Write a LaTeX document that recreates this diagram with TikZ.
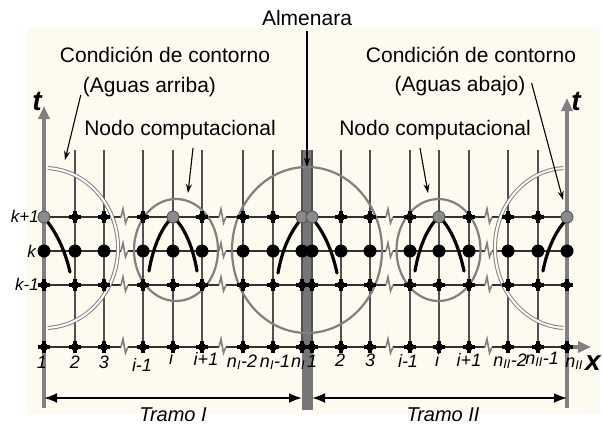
\documentclass[tikz,border=0pt]{standalone}
\usepackage{fontspec}
\setmainfont{Liberation Sans}
\usetikzlibrary{arrows.meta,calc}
\definecolor{cream}{RGB}{253,251,240}
\definecolor{axisgray}{RGB}{128,128,128}
\definecolor{barcol}{RGB}{118,118,118}
\definecolor{gridcol}{RGB}{80,80,80}
\definecolor{rowcol}{RGB}{50,50,50}
\definecolor{circcol}{RGB}{128,128,128}
\definecolor{nodegray}{RGB}{138,138,138}
\tikzset{
  vline/.style={draw=gridcol, line width=2bp},
  hline/.style={draw=rowcol, line width=2.3bp},
  zig/.style={draw=axisgray, line width=1.6bp, line join=miter},
  axisline/.style={draw=axisgray, line width=3.5bp, -{Triangle[length=13bp,width=11bp]}},
  dbl/.style={draw=circcol, line width=1bp, double=white, double distance=2bp},
  circ/.style={draw=circcol, line width=2.2bp},
  blackarc/.style={draw=black, line width=3.2bp, line cap=round},
  bigdot/.style={circle, fill=black, minimum size=13bp, inner sep=0pt},
  smalldot/.style={circle, fill=black, minimum size=8bp, inner sep=0pt},
  graydot/.style={circle, fill=nodegray, draw=black!70, line width=0.8bp, minimum size=12bp, inner sep=0pt},
  crossarm/.style={draw=black, line width=3.2bp},
  lbl/.style={inner sep=0pt, anchor=base, font=\fontsize{21bp}{25bp}\selectfont},
  rowlbl/.style={inner sep=0pt, anchor=base east, font=\fontsize{17bp}{20bp}\selectfont\itshape},
  collbl/.style={inner sep=0pt, anchor=base, font=\fontsize{18bp}{21bp}\selectfont\itshape},
  axlbl/.style={inner sep=0pt, anchor=base, font=\fontsize{28bp}{32bp}\selectfont\bfseries\itshape},
  tramolbl/.style={inner sep=0pt, anchor=base, font=\fontsize{20bp}{24bp}\selectfont\itshape},
  ann/.style={draw=black, line width=1.1bp, -{Stealth[length=9bp,width=6bp]}},
  tramo/.style={draw=black, line width=2bp, {Latex[length=13bp,width=10bp]}-{Latex[length=13bp,width=10bp]}}
}
\begin{document}
\begin{tikzpicture}[x=1bp,y=-1bp]
\useasboundingbox (0,0) rectangle (603,429);
\fill[cream] (27,28) rectangle (600,414);
% almenara bar
\fill[barcol] (301.5,150) rectangle (312.5,410);
% vertical grid lines
\foreach \x in {75,104,143,173,202,243,273,302,312,341,370,410,439,469,508,538}
  \draw[vline] (\x,150) -- (\x,348);
% horizontal rows with breaks
\foreach \y in {217,251,285,347} {
  \draw[hline] (44,\y) -- (121,\y) (128,\y) -- (219,\y) (226,\y) -- (386,\y) (393,\y) -- (485,\y) (492,\y) -- (567,\y);
  \foreach \z in {121,219,386,485}
    \draw[zig] (\z,\y) -- (\z+2,\y-8) -- (\z+4.5,\y+6) -- (\z+7,\y);
}
% axes
\draw[axisline] (44,408) -- (44,106);
\draw[axisline] (567,408) -- (567,98);
\draw[axisline] (565,347) -- (591,347);
% circles
\draw[dbl] (47.9,168.1) arc[start angle=-87, end angle=87, x radius=74, y radius=80];
\draw[dbl] (563.2,168.1) arc[start angle=267, end angle=93, x radius=72, y radius=80];
\draw[circ] (176,250) ellipse [x radius=42, y radius=51];
\draw[circ] (438.5,250) ellipse [x radius=42, y radius=51];
\draw[circ] (307,250) ellipse [x radius=75, y radius=83];
% black arcs
\draw[blackarc] (46,220) .. controls (56,232) and (65,250) .. (70,272);
\draw[blackarc] (149,271) .. controls (153,247) and (162,226) .. (173,217) .. controls (184,226) and (193,247) .. (197,271);
\draw[blackarc] (278,273) .. controls (282,250) and (290,232) .. (302,218);
\draw[blackarc] (312,218) .. controls (324,232) and (332,250) .. (337,273);
\draw[blackarc] (415,271) .. controls (419,247) and (428,226) .. (439,217) .. controls (450,226) and (459,247) .. (464,271);
\draw[blackarc] (543,271) .. controls (547,250) and (555,232) .. (566,220);
% grid nodes
\foreach \c/\x in {1/44,2/75,3/104,4/143,5/173,6/202,7/243,8/273,9/302,10/312,11/341,12/370,13/410,14/439,15/469,16/508,17/538,18/567} {
  \node[bigdot] (k-\c) at (\x,251) {};
  \foreach \r/\y in {m/285,b/347} {
    \draw[crossarm] (\x-6,\y) -- (\x+6,\y) (\x,\y-6) -- (\x,\y+6);
    \node[smalldot] (\r-\c) at (\x,\y) {};
  }
}
\foreach \c/\x in {2/75,3/104,4/143,6/202,7/243,8/273,11/341,12/370,13/410,15/469,16/508,17/538} {
  \draw[crossarm] (\x-6,217) -- (\x+6,217) (\x,211) -- (\x,223);
  \node[smalldot] (p-\c) at (\x,217) {};
}
\foreach \c/\x in {1/44,5/173,9/302,10/312,14/439,18/567}
  \node[graydot] (p-\c) at (\x,217) {};
% row labels
\node[rowlbl] (lk1) at (39,222) {k+1};
\node[rowlbl] (lk) at (36,257) {k};
\node[rowlbl] (lkm) at (39,290) {k-1};
% column labels
\node[collbl] (c1) at (42,368) {1};
\node[collbl] (c2) at (75,368) {2};
\node[collbl] (c3) at (104,368) {3};
\node[collbl] (c4) at (142,371) {i-1};
\node[collbl] (c5) at (171,364) {i};
\node[collbl] (c6) at (206,365) {i+1};
\node[collbl] (c7) at (242,367) {n\textsubscript{I}-2};
\node[collbl] (c8) at (275,367) {n\textsubscript{I}-1};
\node[collbl] (c9) at (298,367) {n\textsubscript{I}};
\node[collbl] (c10) at (312,367) {1};
\node[collbl] (c11) at (340,366) {2};
\node[collbl] (c12) at (370,366) {3};
\node[collbl] (c13) at (408,367) {i-1};
\node[collbl] (c14) at (437,366) {i};
\node[collbl] (c15) at (469,366) {i+1};
\node[collbl] (c16) at (510,366) {n\textsubscript{II}-2};
\node[collbl] (c17) at (542,364) {n\textsubscript{II}-1};
\node[collbl] (c18) at (574,367) {n\textsubscript{II}};
% axis labels
\node[axlbl] (tl) at (37,110) {t};
\node[axlbl] (tr) at (576,110) {t};
\node[axlbl] (xl) at (593,370) {x};
% tramo arrows
\coordinate (tl1) at (44,398);
\coordinate (tl2) at (302,398);
\coordinate (tr1) at (312,398);
\coordinate (tr2) at (567,398);
\draw[tramo] (tl1) -- (tl2);
\draw[tramo] (tr1) -- (tr2);
\node[tramolbl] (tramoI) at (173,421) {Tramo I};
\node[tramolbl] (tramoII) at (443,421) {Tramo II};
% annotation texts
\node[lbl] (alm) at (307,25) {Almenara};
\node[lbl] (cca1) at (165,62) {Condición de contorno};
\node[lbl] (cca2) at (149.5,92) {(Aguas arriba)};
\node[lbl] (cab1) at (471,62) {Condición de contorno};
\node[lbl] (cab2) at (460,91) {(Aguas abajo)};
\node[lbl] (ncl) at (180,135) {Nodo computacional};
\node[lbl] (ncr) at (435,135) {Nodo computacional};
% annotation arrow tips
\coordinate (tipA) at (65,160);
\coordinate (tipAlm) at (307,167);
\coordinate (tipB) at (563,200);
\coordinate (tipNL) at (188,193);
\coordinate (tipNR) at (428,193);
\draw[ann] ($(cca2.base west)+(-2,3)$) -- (tipA);
\draw[ann] ($(alm.base)+(0,6)$) -- (tipAlm);
\draw[ann] ($(cab2.base east)+(6,-8)$) -- (tipB);
\draw[ann] ($(ncl.base)+(13,13)$) -- (tipNL);
\draw[ann] ($(ncr.base)+(-15,13)$) -- (tipNR);
\end{tikzpicture}
\end{document}
